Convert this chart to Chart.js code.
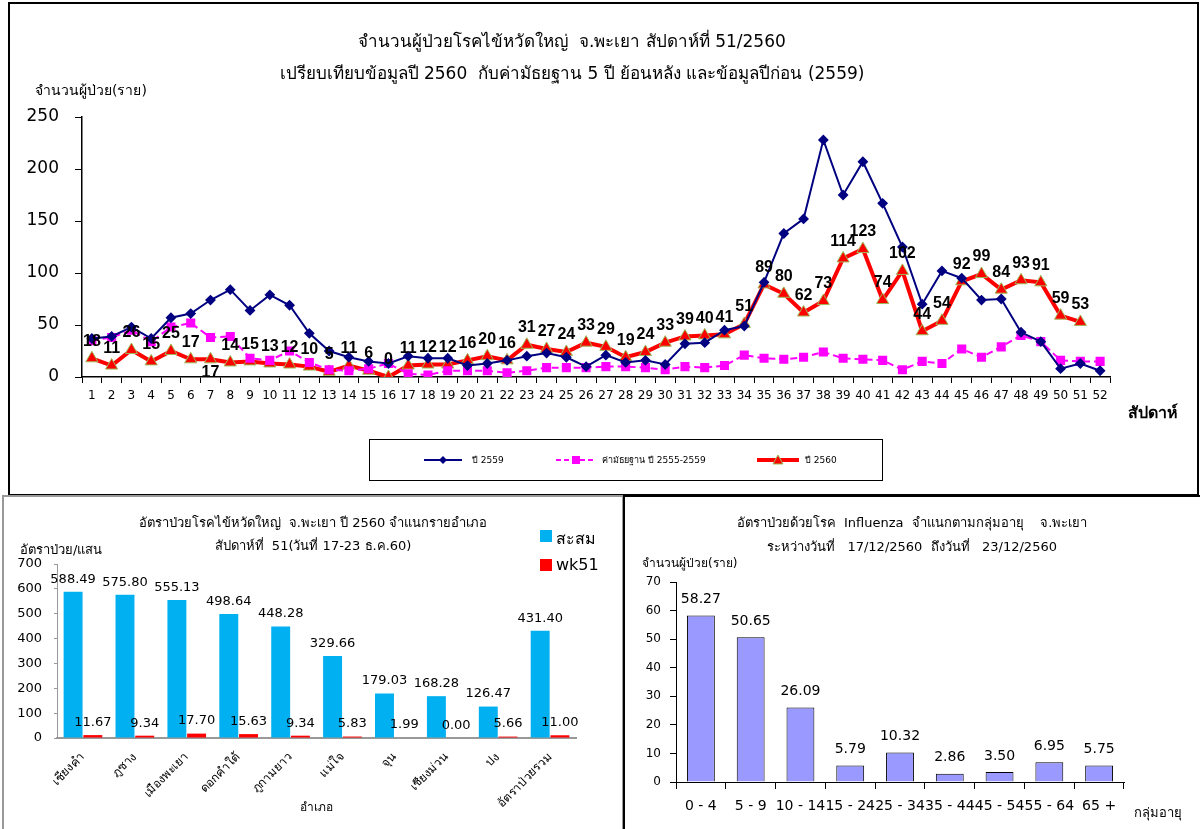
<!DOCTYPE html>
<html>
<head>
<meta charset="utf-8">
<script src="https://cdn.jsdelivr.net/npm/chart.js@4.4.1/dist/chart.umd.min.js"></script>
<style>
  body { margin:0; width:1200px; height:829px; position:relative; background:#fff; overflow:hidden;
         font-family: Tahoma, "DejaVu Sans", "Noto Sans", sans-serif; color:#000; }
  .abs { position:absolute; }
  .frame { position:absolute; box-sizing:border-box; pointer-events:none; }
  .t { position:absolute; white-space:nowrap; }
  canvas { position:absolute; }
  .leg { position:absolute; font-size:9px; display:flex; align-items:center; }
</style>
</head>
<body>
<div class="frame" style="left:8px;top:2px;width:1191px;height:494px;border:2px solid #000"></div>
<div class="frame" style="left:2px;top:495px;width:622px;height:336px;border:2px solid #999"></div>
<div class="frame" style="left:623px;top:495px;width:579px;height:336px;border:2px solid #000"></div>

<div class="abs" style="left:0;top:0;width:1200px;height:495px"><canvas id="weekly"></canvas></div>
<div class="abs" style="left:2px;top:497px;width:612px;height:330px"><canvas id="district"></canvas></div>
<div class="abs" style="left:624px;top:497px;width:576px;height:330px"><canvas id="agegroup"></canvas></div>

<div class="t" style="left:0;width:1144px;text-align:center;top:27px;font-size:17px">จำนวนผู้ป่วยโรคไข้หวัดใหญ่&nbsp; จ.พะเยา สัปดาห์ที่ 51/2560</div>
<div class="t" style="left:0;width:1144px;text-align:center;top:59px;font-size:17px">เปรียบเทียบข้อมูลปี 2560&nbsp; กับค่ามัธยฐาน 5 ปี ย้อนหลัง และข้อมูลปีก่อน (2559)</div>
<div class="t" style="left:35px;top:79px;font-size:14px">จำนวนผู้ป่วย(ราย)</div>
<div class="t" style="left:1128px;top:400px;font-size:16px;font-weight:bold">สัปดาห์</div>

<div class="frame" style="left:369px;top:439px;width:514px;height:42px;border:1px solid #000"></div>
<div class="leg" style="left:424px;top:452px;height:16px">
  <svg width="38" height="10"><line x1="0" y1="5" x2="38" y2="5" stroke="#000080" stroke-width="2"/><polygon points="19,1 23,5 19,9 15,5" fill="#000080"/></svg>
  <span style="margin-left:10px">ปี 2559</span>
</div>
<div class="leg" style="left:556px;top:452px;height:16px">
  <svg width="40" height="10"><line x1="0" y1="5" x2="40" y2="5" stroke="#ff00ff" stroke-width="2" stroke-dasharray="5,3"/><rect x="16" y="1" width="8" height="8" fill="#ff00ff"/></svg>
  <span style="margin-left:6px">ค่ามัธยฐาน ปี 2555-2559</span>
</div>
<div class="leg" style="left:757px;top:452px;height:16px">
  <svg width="42" height="12"><line x1="0" y1="6" x2="42" y2="6" stroke="#ff0000" stroke-width="4"/><polygon points="21,1 26,10 16,10" fill="#ff0000" stroke="#9bbb59" stroke-width="1"/></svg>
  <span style="margin-left:6px">ปี 2560</span>
</div>

<div class="t" style="left:2px;width:622px;text-align:center;top:512px;font-size:13px">อัตราป่วยโรคไข้หวัดใหญ่&nbsp; จ.พะเยา ปี 2560 จำแนกรายอำเภอ</div>
<div class="t" style="left:2px;width:622px;text-align:center;top:535px;font-size:13px">สัปดาห์ที่&nbsp; 51(วันที่ 17-23 ธ.ค.60)</div>
<div class="t" style="left:20px;top:539px;font-size:13px">อัตราป่วย/แสน</div>
<div class="t" style="left:300px;top:797px;font-size:12px">อำเภอ</div>
<div class="abs" style="left:540px;top:530px;width:12px;height:12px;background:#00b0f0"></div>
<div class="t" style="left:556px;top:526px;font-size:16px">สะสม</div>
<div class="abs" style="left:540px;top:559px;width:12px;height:12px;background:#ff0000"></div>
<div class="t" style="left:556px;top:555px;font-size:16px">wk51</div>

<div class="t" style="left:624px;width:576px;text-align:center;top:512px;font-size:13px">อัตราป่วยด้วยโรค&nbsp; Influenza&nbsp; จำแนกตามกลุ่มอายุ&nbsp;&nbsp;&nbsp; จ.พะเยา</div>
<div class="t" style="left:624px;width:576px;text-align:center;top:536px;font-size:13px">ระหว่างวันที่&nbsp;&nbsp; 17/12/2560&nbsp; ถึงวันที่&nbsp;&nbsp; 23/12/2560</div>
<div class="t" style="left:642px;top:553px;font-size:12px">จำนวนผู้ป่วย(ราย)</div>
<div class="t" style="left:1134px;top:802px;font-size:13px">กลุ่มอายุ</div>

<script>
const FONT = 'Tahoma, "DejaVu Sans", "Noto Sans", sans-serif';

// weekly chart data
const weeks = Array.from({length: 52}, (_, i) => String(i + 1));
const cases2559 = [37,39,48,37,57,61,74,84,64,79,69,42,25,19,15,13,20,18,18,11,13,16,20,23,19,10,21,14,16,12,32,33,45,49,91,138,152,228,175,207,167,125,70,102,95,74,75,43,34,8,13,6];
const median5y = [35,38,45,34,48,52,38,39,18,16,25,14,7,6,8,13,3,2,6,6,6,4,6,9,9,9,10,10,9,7,10,9,11,21,18,17,19,24,18,17,16,7,15,13,27,19,29,40,34,16,15,15];
const cases2560 = [18,11,26,15,25,17,17,14,15,13,12,10,5,11,6,0,11,12,12,16,20,16,31,27,24,33,29,19,24,33,39,40,41,51,89,80,62,73,114,123,74,102,44,54,92,99,84,93,91,59,53];

// district chart data
const districts = ["เชียงคำ","ภูซาง","เมืองพะเยา","ดอกคำใต้","ภูกามยาว","แม่ใจ","จุน","เชียงม่วน","ปง","อัตราป่วยรวม"];
const rateCumulative = [588.49,575.80,555.13,498.64,448.28,329.66,179.03,168.28,126.47,431.40];
const rateWk51 = [11.67,9.34,17.70,15.63,9.34,5.83,1.99,0.00,5.66,11.00];

// age group chart data
const ageGroups = ["0 - 4","5 - 9","10 - 14","15 - 24","25 - 34","35 - 44","45 - 54","55 - 64","65 +"];
const ageRates = [58.27,50.65,26.09,5.79,10.32,2.86,3.50,6.95,5.75];

function labelPlugin(sets) {
  return {
    id: 'valueLabels',
    afterDatasetsDraw(chart) {
      const ctx = chart.ctx;
      sets.forEach(s => {
        const meta = chart.getDatasetMeta(s.index);
        const vals = chart.data.datasets[s.index].data;
        ctx.save();
        ctx.font = s.font;
        ctx.fillStyle = s.color || '#000';
        ctx.textAlign = 'center';
        meta.data.forEach((el, i) => {
          if (vals[i] == null) return;
          const txt = s.fmt(vals[i]);
          if (s.below && s.below.includes(i)) {
            ctx.textBaseline = 'top';
            ctx.fillText(txt, el.x, el.y + s.offset - 4);
          } else {
            ctx.textBaseline = 'bottom';
            ctx.fillText(txt, el.x, el.y - s.offset);
          }
        });
        ctx.restore();
      });
    }
  };
}

Chart.defaults.font.family = FONT;
Chart.defaults.color = '#000';

new Chart(document.getElementById('weekly'), {
  type: 'line',
  data: {
    labels: weeks,
    datasets: [
      { label: 'ปี 2559', data: cases2559, borderColor: '#000080', backgroundColor: '#000080',
        borderWidth: 2, pointStyle: 'rectRot', pointRadius: 4, tension: 0 },
      { label: 'ค่ามัธยฐาน ปี 2555-2559', data: median5y, borderColor: '#ff00ff', backgroundColor: '#ff00ff',
        borderWidth: 2, borderDash: [7, 4], pointStyle: 'rect', pointRadius: 5, tension: 0 },
      { label: 'ปี 2560', data: cases2560, borderColor: '#ff0000', backgroundColor: '#ff0000',
        pointBorderColor: '#9bbb59', pointBorderWidth: 1, borderWidth: 4,
        pointStyle: 'triangle', pointRadius: 7, tension: 0 }
    ]
  },
  options: {
    responsive: true, maintainAspectRatio: false, animation: false,
    layout: { padding: { left: 0, top: 117, right: 90, bottom: 88 } },
    plugins: { legend: { display: false }, title: { display: false }, tooltip: { enabled: false } },
    scales: {
      x: {
        offset: true,
        grid: { offset: true, drawOnChartArea: false, tickLength: 6, color: '#000' },
        border: { color: '#000', width: 1.5 },
        ticks: { autoSkip: false, maxRotation: 0, font: { size: 12 }, padding: 6 },
        afterFit: s => { s.height = 30; }
      },
      y: {
        min: 0, max: 250,
        grid: { drawOnChartArea: false, tickLength: 7, color: '#000' },
        border: { color: '#000', width: 1.5 },
        ticks: { stepSize: 50, font: { size: 17 }, padding: 16 },
        afterFit: s => { s.width = 82; }
      }
    }
  },
  plugins: [labelPlugin([{ index: 2, font: 'bold 16px "Liberation Sans", Arial, sans-serif', offset: 9,
    fmt: v => String(v), below: [6] }])]
});

new Chart(document.getElementById('district'), {
  type: 'bar',
  data: {
    labels: districts,
    datasets: [
      { label: 'สะสม', data: rateCumulative, backgroundColor: '#00b0f0',
        categoryPercentage: 0.76, barPercentage: 0.96 },
      { label: 'wk51', data: rateWk51, backgroundColor: '#ff0000',
        categoryPercentage: 0.76, barPercentage: 0.96 }
    ]
  },
  options: {
    responsive: true, maintainAspectRatio: false, animation: false,
    layout: { padding: { left: 0, top: 67, right: 38, bottom: 19 } },
    plugins: { legend: { display: false }, tooltip: { enabled: false } },
    scales: {
      x: {
        grid: { display: false },
        border: { color: '#999', width: 2 },
        ticks: { autoSkip: false, minRotation: 45, maxRotation: 45, font: { size: 12 }, padding: 4 },
        afterFit: s => { s.height = 70; }
      },
      y: {
        min: 0, max: 700,
        grid: { drawOnChartArea: false, tickLength: 3, color: '#999' },
        border: { color: '#999', width: 1 },
        ticks: { stepSize: 100, font: { size: 13 }, padding: 12 },
        afterFit: s => { s.width = 55; }
      }
    }
  },
  plugins: [labelPlugin([
    { index: 0, font: '13px ' + FONT, offset: 6, fmt: v => v.toFixed(2) },
    { index: 1, font: '13px ' + FONT, offset: 6, fmt: v => v.toFixed(2) }
  ])]
});

new Chart(document.getElementById('agegroup'), {
  type: 'bar',
  data: {
    labels: ageGroups,
    datasets: [
      { label: 'อัตราป่วย', data: ageRates, backgroundColor: '#9999ff', borderColor: '#000',
        borderWidth: 1, categoryPercentage: 1, barPercentage: 0.56 }
    ]
  },
  options: {
    responsive: true, maintainAspectRatio: false, animation: false,
    layout: { padding: { left: 0, top: 85, right: 76, bottom: 5 } },
    plugins: { legend: { display: false }, tooltip: { enabled: false } },
    scales: {
      x: {
        grid: { offset: true, drawOnChartArea: false, tickLength: 7, color: '#000' },
        border: { color: '#000', width: 1 },
        ticks: { autoSkip: false, maxRotation: 0, font: { size: 14 }, padding: 9 },
        afterFit: s => { s.height = 40; }
      },
      y: {
        min: 0, max: 70,
        grid: { drawOnChartArea: false, tickLength: 6, color: '#000' },
        border: { color: '#000', width: 1 },
        ticks: { stepSize: 10, font: { size: 12 }, padding: 9 },
        afterFit: s => { s.width = 52; }
      }
    }
  },
  plugins: [labelPlugin([{ index: 0, font: '14px ' + FONT, offset: 9, fmt: v => v.toFixed(2) }])]
});
</script>
</body>
</html>
